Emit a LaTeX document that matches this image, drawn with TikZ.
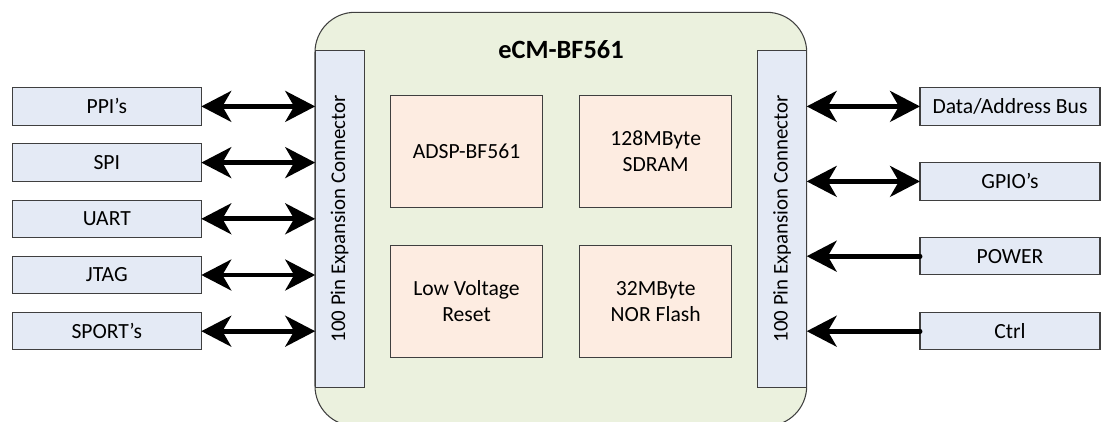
\documentclass[tikz,border=0pt]{standalone}
\usepackage{fontspec}
\setmainfont{Carlito}
\usetikzlibrary{arrows.meta}
\definecolor{BoardGreen}{HTML}{EBF1DE}
\definecolor{ConnBlue}{HTML}{E4EAF5}
\definecolor{ChipPeach}{HTML}{FDECE1}
\definecolor{EdgeGray}{HTML}{3F3F3F}
\tikzset{
  ifbox/.style={draw=EdgeGray,line width=0.6pt,fill=ConnBlue,inner sep=0pt,outer sep=0pt,
    minimum width=189*0.02cm,minimum height=37.5*0.02cm,font=\fontsize{12.3}{14.5}\selectfont},
  connbox/.style={draw=EdgeGray,line width=0.6pt,fill=ConnBlue,inner sep=0pt,outer sep=0pt,
    minimum width=49*0.02cm,minimum height=337*0.02cm},
  chipbox/.style={draw=EdgeGray,line width=0.6pt,fill=ChipPeach,inner sep=0pt,outer sep=0pt,
    minimum width=151.6*0.02cm,minimum height=112*0.02cm,align=center,
    font=\fontsize{12.3}{14.6}\selectfont},
  bus/.style={line width=2.8pt,
    {Stealth[length=17pt,width=17.5pt,inset=5pt]}-{Stealth[length=17pt,width=17.5pt,inset=5pt]}},
  feed/.style={line width=2.8pt,line cap=round,
    {Stealth[length=17pt,width=17.5pt,inset=5pt]}-}
}
\begin{document}
\begin{tikzpicture}[x=0.02cm,y=-0.02cm]
  \useasboundingbox (0,0) rectangle (1101,422);
  % board
  \draw[draw=EdgeGray,line width=0.6pt,fill=BoardGreen,rounded corners=0.8cm]
    (315,12.3) rectangle (806.7,426);
  \node[font=\bfseries\fontsize{15}{17}\selectfont] (title) at (561,50) {eCM-BF561};
  % expansion connectors
  \node[connbox] (lconn) at (339.7,218.7) {};
  \node[rotate=90,font=\fontsize{11.9}{14}\selectfont] at (lconn.center) {100 Pin Expansion Connector};
  \node[connbox] (rconn) at (782.2,218.7) {};
  \node[rotate=90,font=\fontsize{11.9}{14}\selectfont] at (rconn.center) {100 Pin Expansion Connector};
  % parts on the board
  \node[chipbox] (dsp) at (466.5,151.2) {ADSP-BF561};
  \node[chipbox] (sdram) at (655.7,151.2) {128MByte\\SDRAM};
  \node[chipbox] (reset) at (466.5,301.3) {Low Voltage\\Reset};
  \node[chipbox] (flash) at (655.7,301.3) {32MByte\\NOR Flash};
  % left interfaces
  \node[ifbox] (ppi) at (106.8,106.4) {PPI’s};
  \node[ifbox] (spi) at (106.8,162.6) {SPI};
  \node[ifbox] (uart) at (106.8,218.8) {UART};
  \node[ifbox] (jtag) at (106.8,275) {JTAG};
  \node[ifbox] (sport) at (106.8,331.2) {SPORT’s};
  \foreach \n in {ppi,spi,uart,jtag,sport}
    \draw[bus] (\n.east) -- (\n.east -| lconn.west);
  % right interfaces
  \node[ifbox,minimum width=180*0.02cm] (bus) at (1010,106.4) {Data/Address Bus};
  \node[ifbox,minimum width=180*0.02cm] (gpio) at (1010,181.4) {GPIO’s};
  \node[ifbox,minimum width=180*0.02cm] (power) at (1010,256.2) {POWER};
  \node[ifbox,minimum width=180*0.02cm] (ctrl) at (1010,331.2) {Ctrl};
  \foreach \n in {bus,gpio}
    \draw[bus] (\n.west -| rconn.east) -- (\n.west);
  \foreach \n in {power,ctrl}
    \draw[feed] (\n.west -| rconn.east) -- (\n.west);
\end{tikzpicture}
\end{document}
